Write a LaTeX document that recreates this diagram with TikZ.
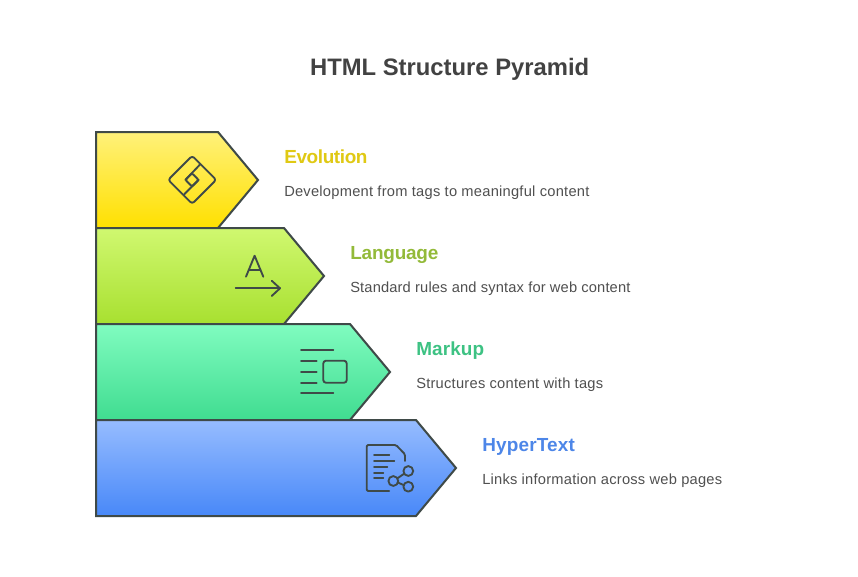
\documentclass[tikz,border=0pt]{standalone}
\usepackage{fontspec}
\setmainfont{Liberation Sans}
\definecolor{ink}{HTML}{3F4A48}
\definecolor{titlec}{HTML}{424242}
\definecolor{descc}{HTML}{505050}
\definecolor{evoc}{HTML}{E0C914}
\definecolor{lanc}{HTML}{93BA39}
\definecolor{marc}{HTML}{3DC283}
\definecolor{hypc}{HTML}{4D86E8}
\definecolor{y1}{HTML}{FFF17A}\definecolor{y2}{HTML}{FFE000}
\definecolor{g1}{HTML}{D0F870}\definecolor{g2}{HTML}{A8E030}
\definecolor{t1}{HTML}{80FCC0}\definecolor{t2}{HTML}{40DC90}
\definecolor{b1}{HTML}{96BCFF}\definecolor{b2}{HTML}{4888F8}
\newcommand{\spc}[1]{\addfontfeature{LetterSpace=#1}}
\tikzset{
  x=0.75pt,y=-0.75pt,
  band/.style={draw=ink,line width=1.5pt,line join=miter},
  icon/.style={draw=ink,line width=1.4pt,line cap=round,line join=round},
  titletext/.style={anchor=base,inner sep=0pt,text=titlec,font=\bfseries\fontsize{17.85}{20}\selectfont},
  headtext/.style={anchor=base west,inner sep=0pt,font=\bfseries\fontsize{14.2}{16}\selectfont},
  desctext/.style={anchor=base west,inner sep=0pt,text=descc,font=\fontsize{11}{13}\selectfont}
}
\begin{document}
\begin{tikzpicture}
\fill[white] (0,0) rectangle (858,576);
\useasboundingbox (0,0) rectangle (858,576);
\node[titletext] (title) at (449.7,75) {HTML Structure Pyramid};
% bands
\path[band,top color=y1,bottom color=y2]
  (96,132) -- (218,132) -- (258,180) -- (218,228) -- (96,228) -- cycle;
\path[band,top color=g1,bottom color=g2]
  (96,228) -- (284,228) -- (324,276) -- (284,324) -- (96,324) -- cycle;
\path[band,top color=t1,bottom color=t2]
  (96,324) -- (350,324) -- (390,372) -- (350,420) -- (96,420) -- cycle;
\path[band,top color=b1,bottom color=b2]
  (96,420) -- (416,420) -- (456,468) -- (416,516) -- (96,516) -- cycle;
% evolution icon
\draw[icon,rounded corners=2pt] (192.2,155.8) -- (216.2,179.8) -- (192.2,203.8) -- (168.2,179.8) -- cycle;
\draw[icon,rounded corners=1pt] (192,173.3) -- (198.6,179.9) -- (192,186.5) -- (185.4,179.9) -- cycle;
\draw[icon] (200.3,164.2) -- (185.4,179.9);
\draw[icon] (198.6,179.9) -- (184.2,194.3);
% language icon
\draw[icon] (246,276.7) -- (254.6,255.7) -- (263.3,276.7);
\draw[icon] (248.8,270) -- (260.5,270);
\draw[icon] (235.7,288.3) -- (280,288.3);
\draw[icon] (271.7,280.7) -- (280,288.3) -- (271.7,296);
% markup icon
\draw[icon] (301,350) -- (333.3,350);
\draw[icon] (301,360.7) -- (316.7,360.7);
\draw[icon] (301,371.7) -- (316.7,371.7);
\draw[icon] (301,382.7) -- (316.7,382.7);
\draw[icon] (301,393.3) -- (333.3,393.3);
\draw[icon,rounded corners=2pt] (323.3,360.7) rectangle (346.7,382.7);
% hypertext icon
\draw[icon,rounded corners=1pt] (405,461) -- (405,454.3) -- (396,445) -- (366.7,445) -- (366.7,491) -- (389.3,491);
\draw[icon] (374,455) -- (389.3,455);
\draw[icon] (374,460.7) -- (394.3,460.7);
\draw[icon] (374,466.7) -- (387.3,466.7);
\draw[icon] (374,472.7) -- (383.3,472.7);
\draw[icon] (374,478.3) -- (383.3,478.3);
\draw[icon] (393.3,481) circle[radius=4.9];
\draw[icon] (408.3,471) circle[radius=4.9];
\draw[icon] (408.3,486.7) circle[radius=4.9];
\draw[icon] (397.4,478.3) -- (404.2,473.7);
\draw[icon] (398,482.6) -- (403.6,485);
% labels
\node[headtext,text=evoc] (h1) at (284,163) {\spc{-2}Evolution};
\node[desctext] (d1) at (284,196.5) {\spc{1.7}Development from tags to meaningful content};
\node[headtext,text=lanc] (h2) at (350,259) {\spc{-1}Language};
\node[desctext] (d2) at (350,292.5) {\spc{1.1}Standard rules and syntax for web content};
\node[headtext,text=marc] (h3) at (416,355) {\spc{0.7}Markup};
\node[desctext] (d3) at (416,388.5) {\spc{1.7}Structures content with tags};
\node[headtext,text=hypc] (h4) at (482,451) {\spc{1}HyperText};
\node[desctext] (d4) at (482,484.5) {\spc{1.6}Links information across web pages};
\end{tikzpicture}
\end{document}
